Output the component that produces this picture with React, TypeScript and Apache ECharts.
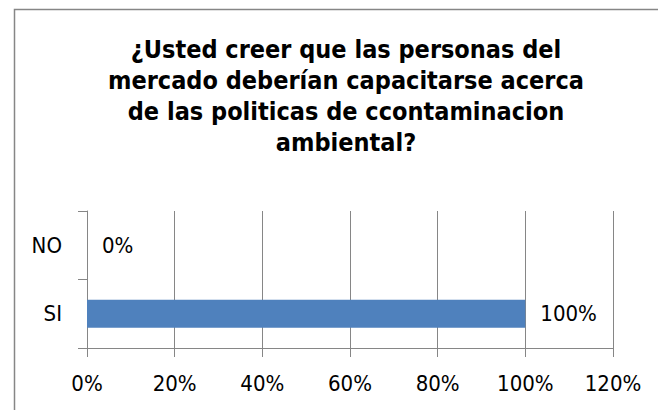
import React, { useEffect, useRef } from "react";
import * as echarts from "echarts";

const titleLines = [
  "¿Usted creer que las personas del",
  "mercado deberían capacitarse acerca",
  "de las politicas de ccontaminacion",
  "ambiental?",
];
const categories = ["SI", "NO"];
const values = [1.0, 0];
const xTicks = { min: 0, max: 1.2, interval: 0.2 };

const FONT = "'DejaVu Sans Condensed', 'Liberation Sans', sans-serif";
const GRAY = "#868686";

const pct = (v: number) => `${Math.round(v * 100)}%`;

export default function App() {
  const ref = useRef<HTMLDivElement>(null);
  useEffect(() => {
    if (!ref.current) return;
    const chart = echarts.init(ref.current, undefined, { renderer: "svg" });
    chart.setOption({
      animation: false,
      backgroundColor: "#fff",
      title: {
        text: titleLines.join("\n"),
        left: 341,
        textAlign: "center",
        top: 29,
        textStyle: {
          fontFamily: FONT,
          fontWeight: "bold",
          fontSize: 25,
          lineHeight: 31,
          color: "#000",
        },
      },
      graphic: [
        {
          type: "rect",
          left: 12,
          top: 7,
          shape: { x: 0, y: 0, width: 700, height: 450 },
          style: { fill: "none", stroke: GRAY, lineWidth: 1.5 },
          silent: true,
          z: -1,
        },
      ],
      grid: { left: 87, right: 45, top: 211, bottom: 62, containLabel: false },
      xAxis: {
        type: "value",
        min: xTicks.min,
        max: xTicks.max,
        interval: xTicks.interval,
        axisLine: { show: true, lineStyle: { color: GRAY, width: 1 } },
        axisTick: { show: true, length: 9, lineStyle: { color: GRAY } },
        splitLine: { show: true, lineStyle: { color: GRAY, width: 1 } },
        axisLabel: {
          formatter: (v: number) => pct(v),
          fontFamily: FONT,
          fontSize: 22,
          color: "#000",
          margin: 24,
        },
      },
      yAxis: {
        type: "category",
        data: categories,
        axisLine: { show: true, lineStyle: { color: GRAY, width: 1 } },
        axisTick: { show: true, length: 9, alignWithLabel: false, lineStyle: { color: GRAY } },
        axisLabel: {
          fontFamily: FONT,
          fontSize: 22,
          color: "#000",
          margin: 25,
        },
      },
      series: [
        {
          type: "bar",
          data: values,
          barWidth: 28,
          itemStyle: { color: "#4f81bd" },
          label: {
            show: true,
            position: "right",
            distance: 15,
            formatter: (p: any) => pct(p.value),
            fontFamily: FONT,
            fontSize: 22,
            color: "#000",
          },
        },
      ],
    });
    return () => chart.dispose();
  }, []);
  return (
    <div
      ref={ref}
      style={{ position: "fixed", left: 0, top: 0, width: 658, height: 410 }}
    />
  );
}
